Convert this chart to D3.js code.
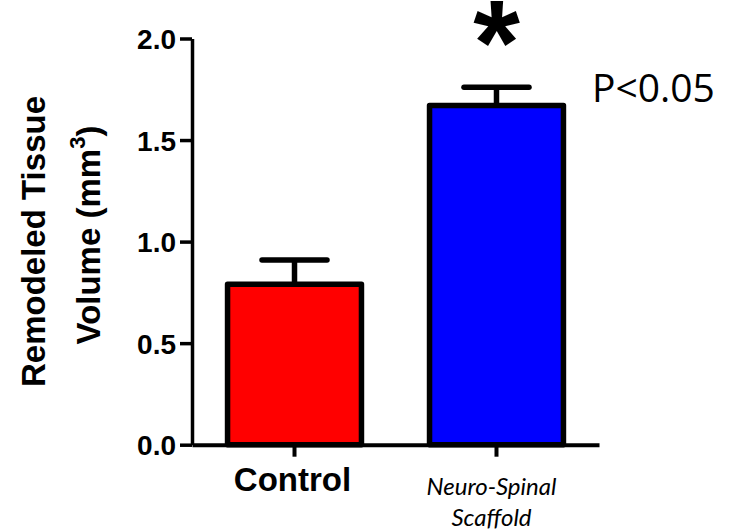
<!DOCTYPE html>
<html>
<head>
<meta charset="utf-8">
<script src="https://cdn.jsdelivr.net/npm/d3@7"></script>
<style>
  body { margin: 0; background: #fff; }
  svg { display: block; }
  .axis text { font-family: "Liberation Sans", Arial, sans-serif; font-weight: bold; fill: #000; }
  .axis path, .axis line { stroke: #000; }
</style>
</head>
<body>
<div id="chart"></div>
<script>
const groups = ["Control", "Neuro-Spinal Scaffold"];
const means = [0.79, 1.67];
const errors = [0.12, 0.09];
const colors = ["#ff0000", "#0000ff"];
const yTicks = [0, 0.5, 1.0, 1.5, 2.0];
const groupLabels = [["Control"], ["Neuro-Spinal", "Scaffold"]];
const yTitle = ["Remodeled Tissue", "Volume (mm", "3", ")"];
const significance = "*";
const pLabel = "P<0.05";

const width = 736;
const height = 530;

const data = groups.map((g, i) => ({
  group: g,
  mean: means[i],
  error: errors[i],
  color: colors[i],
  label: groupLabels[i],
}));

const y = d3.scaleLinear().domain([0, 2]).range([444.7, 38.5]);
const x = d3
  .scaleBand()
  .domain(groups)
  .range([192, 599])
  .paddingInner(0.337)
  .paddingOuter(0.176);

const svg = d3
  .select("#chart")
  .append("svg")
  .attr("width", width)
  .attr("height", height)
  .attr("viewBox", [0, 0, width, height]);

// y axis
svg
  .append("g")
  .attr("class", "axis")
  .attr("transform", `translate(${x.range()[0]},0)`)
  .call(
    d3
      .axisLeft(y)
      .tickValues(yTicks)
      .tickFormat(d3.format(".1f"))
      .tickSize(12)
      .tickSizeOuter(0)
      .tickPadding(4)
  )
  .call((g) => g.select(".domain").attr("stroke-width", 3.5))
  .call((g) => g.selectAll(".tick line").attr("stroke-width", 3.5))
  .call((g) => g.selectAll(".tick text").attr("font-size", 28).attr("dy", "0.36em"));

// x axis: baseline + ticks
svg
  .append("g")
  .attr("class", "axis")
  .attr("transform", `translate(0,${y(0)})`)
  .call(d3.axisBottom(x).tickSize(12).tickSizeOuter(0).tickFormat(""))
  .call((g) => g.select(".domain").attr("stroke-width", 4))
  .call((g) => g.selectAll(".tick line").attr("stroke-width", 4));

// bars
svg
  .append("g")
  .selectAll("rect")
  .data(data)
  .join("rect")
  .attr("x", (d) => x(d.group))
  .attr("y", (d) => y(d.mean))
  .attr("width", x.bandwidth())
  .attr("height", (d) => y(0) - y(d.mean))
  .attr("fill", (d) => d.color)
  .attr("stroke", "#000")
  .attr("stroke-width", 5.5)
  .attr("stroke-linejoin", "round");

// error bars (upper only)
const capHalf = 32.5;
const gErr = svg
  .append("g")
  .attr("stroke", "#000")
  .attr("stroke-width", 5.5)
  .attr("stroke-linecap", "round");
gErr
  .selectAll(".stem")
  .data(data)
  .join("line")
  .attr("class", "stem")
  .attr("stroke-linecap", "butt")
  .attr("x1", (d) => x(d.group) + x.bandwidth() / 2)
  .attr("x2", (d) => x(d.group) + x.bandwidth() / 2)
  .attr("y1", (d) => y(d.mean) - 2)
  .attr("y2", (d) => y(d.mean + d.error));
gErr
  .selectAll(".cap")
  .data(data)
  .join("line")
  .attr("class", "cap")
  .attr("x1", (d) => x(d.group) + x.bandwidth() / 2 - capHalf)
  .attr("x2", (d) => x(d.group) + x.bandwidth() / 2 + capHalf)
  .attr("y1", (d) => y(d.mean + d.error))
  .attr("y2", (d) => y(d.mean + d.error));

// category labels
svg
  .append("g")
  .selectAll("text")
  .data(data)
  .join("text")
  .attr("text-anchor", "middle")
  .attr("fill", "#000")
  .each(function (d, i) {
    const t = d3.select(this);
    const cx = x(d.group) + x.bandwidth() / 2 - 2;
    if (i === 0) {
      t.attr("font-family", '"Liberation Sans", Arial, sans-serif')
        .attr("font-weight", "bold")
        .attr("font-size", 33)
        .attr("x", cx)
        .attr("y", 491)
        .text(d.label[0]);
    } else {
      t.attr("font-family", "Lato, sans-serif")
        .attr("font-style", "italic")
        .attr("font-size", 24)
        .selectAll("tspan")
        .data(d.label)
        .join("tspan")
        .attr("x", cx - 3)
        .attr("y", (l, j) => 495 + j * 31)
        .text((l) => l);
    }
  });

// y title
const yt = svg
  .append("g")
  .attr("font-family", '"Liberation Sans", Arial, sans-serif')
  .attr("font-weight", "bold")
  .attr("font-size", 33)
  .attr("fill", "#000")
  .attr("text-anchor", "middle")
  .attr("transform", "rotate(-90)");
yt.append("text").attr("x", -241.5).attr("y", 45).text(yTitle[0]);
const yt2 = yt.append("text").attr("x", -235).attr("y", 100);
yt2.append("tspan").text(yTitle[1]);
yt2.append("tspan").attr("font-size", 22).attr("dy", -15).text(yTitle[2]);
yt2.append("tspan").attr("dy", 15).text(yTitle[3]);

// significance annotation
const sig = data[1];
svg
  .append("text")
  .attr("x", x(sig.group) + x.bandwidth() / 2)
  .attr("y", 84)
  .attr("text-anchor", "middle")
  .attr("font-family", '"Liberation Sans", Arial, sans-serif')
  .attr("font-weight", "bold")
  .attr("font-size", 120)
  .attr("fill", "#000")
  .text(significance);

svg
  .append("text")
  .attr("x", 592)
  .attr("y", 102)
  .attr("font-family", '"Open Sans", sans-serif')
  .attr("font-size", 39)
  .attr("fill", "#000")
  .text(pLabel);
</script>
</body>
</html>
